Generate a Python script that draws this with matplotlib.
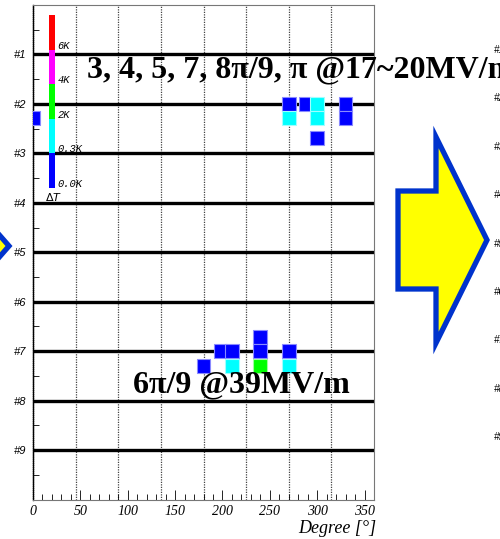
import matplotlib
matplotlib.use("Agg")
import matplotlib.pyplot as plt
from matplotlib.patches import Polygon
import numpy as np

# cell number rows (#1 .. #9)
rows = [1, 2, 3, 4, 5, 6, 7, 8, 9]
row_labels = ["#1", "#2", "#3", "#4", "#5", "#6", "#7", "#8", "#9"]

# hot spots: angle [deg], vertical position (cell + offset), temperature level
spot_deg = [288, 270, 270, 300, 300, 300, 330, 330, 0,
            180, 198, 210, 210, 240, 240, 240, 270, 270]
spot_y = [2.0, 2.0, 2.28, 2.0, 2.28, 2.69, 2.0, 2.28, 2.28,
          7.3, 7.0, 7.0, 7.3, 6.71, 7.0, 7.3, 7.0, 7.3]
spot_level = [0, 0, 1, 1, 1, 0, 0, 0, 0,
              0, 0, 0, 1, 0, 0, 2, 0, 1]

# color scale (dT)
scale_labels = ["0.0K", "0.3K", "2K", "4K", "6K"]
scale_colors = ["#0000ff", "#00ffff", "#00ff00", "#ff00ff", "#ff0000"]
edge_colors = ["#8a8aff", "#a0ffff", "#a0ffa0", "#ffa0ff", "#ffa0a0"]

fig = plt.figure(figsize=(5.0, 5.39), dpi=100)
ax = fig.add_axes([33 / 500, 1 - 499.5 / 539, 341 / 500, 494.5 / 539])

# horizontal cell lines
ax.hlines(rows, 0, 360, color="black", lw=2.4, zorder=2)
# dotted angle grid
for g in np.arange(45, 360, 45):
    ax.axvline(g, color="#444444", lw=0.9, ls=(0, (1, 1)), zorder=1)

# hot spots
cols = [scale_colors[l] for l in spot_level]
ecols = [edge_colors[l] for l in spot_level]
ax.bar(spot_deg, 0.28, bottom=np.array(spot_y) - 0.14, width=14.6,
       color=cols, edgecolor=ecols, lw=0.8, zorder=3)

# color scale bar
seg = 0.70
bottoms = 3.7 - seg * (np.arange(len(scale_colors)) + 1)
ax.bar([20] * len(scale_colors), seg, bottom=bottoms, width=6,
       color=scale_colors, lw=0, zorder=4)
for lab, b in zip(scale_labels, bottoms + seg):
    ax.text(26, b - 0.08, lab, family="Liberation Mono", style="italic",
            fontsize=7.5, va="center", ha="left", zorder=5)
ax.text(22, 3.88, r"$\Delta T$", fontsize=8, ha="center", va="center",
        family="Liberation Serif")

ax.set_xlim(0, 360)
ax.set_ylim(10, 0)
ax.set_xticks(np.arange(0, 351, 50))
ax.set_xticks(np.arange(0, 360, 10), minor=True)
ax.set_yticks(rows)
ax.set_yticklabels(row_labels, family="Liberation Sans", style="italic",
                   fontsize=8)
ax.set_yticks(np.arange(0.5, 10, 1), minor=True)
for t in ax.get_xticklabels():
    t.set_family("Liberation Serif")
    t.set_style("italic")
    t.set_fontsize(10)
ax.tick_params(axis="x", which="major", direction="in", length=7, width=0.6, pad=4)
ax.tick_params(axis="x", which="minor", direction="in", length=4, width=0.6)
ax.tick_params(axis="y", which="major", direction="in", length=0, pad=5)
ax.tick_params(axis="y", which="minor", direction="in", length=4, width=0.6)
for s in ["top", "right", "bottom"]:
    ax.spines[s].set_color("#777777")
    ax.spines[s].set_linewidth(0.8)
ax.spines["left"].set_linewidth(1.0)
ax.spines["left"].set_linestyle((0, (1, 0.5)))

fig.text(376 / 500, 1 - 533 / 539, "Degree [°]", family="Liberation Serif",
         style="italic", fontsize=13, ha="right", va="baseline")

# annotations
fig.text(87 / 500, 1 - 77 / 539, "3, 4, 5, 7, 8π/9, π @17~20MV/m",
         family="Liberation Serif", weight="bold", fontsize=23,
         va="baseline", ha="left", zorder=10)
fig.text(133 / 500, 1 - 392 / 539, "6π/9 @39MV/m",
         family="Liberation Serif", weight="bold", fontsize=23,
         va="baseline", ha="left", zorder=10)

# arrows (decoration)
W, H = 500, 539
def px(pts):
    return [(x / W, 1 - y / H) for x, y in pts]

big = [(398, 191), (436, 191), (436, 137), (487, 240), (436, 343),
       (436, 289), (398, 289)]
fig.patches.append(Polygon(px(big), closed=True, facecolor="#ffff00",
                           edgecolor="#0033cc", lw=3.8,
                           transform=fig.transFigure, figure=fig))
small = [(-30, 190), (-12, 190), (-12, 222), (9, 246), (-12, 270),
         (-12, 300), (-30, 300)]
fig.patches.append(Polygon(px(small), closed=True, facecolor="#ffff00",
                           edgecolor="#0033cc", lw=3.8,
                           transform=fig.transFigure, figure=fig))

# partial labels of next panel at the right edge
right_y = 50 + 48.4 * np.arange(9)
for lab, y in zip(row_labels, right_y):
    fig.text(494 / 500, 1 - y / H, lab, family="Liberation Sans",
             style="italic", fontsize=7, va="center", ha="left")

fig.savefig("out.png", dpi=100)
